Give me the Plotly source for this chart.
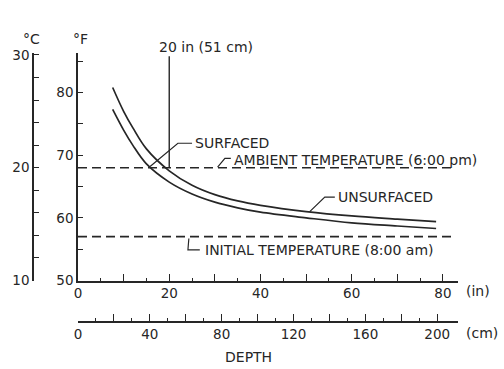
import plotly.graph_objects as go

# ---- data ----
depth_in = [7.6, 10, 12, 15, 20, 25, 30, 35, 40, 50, 60, 70, 78.5]
unsurfaced_F = [80.8, 77.0, 74.4, 71.0, 67.5, 65.2, 63.7, 62.7, 62.0, 61.0, 60.3, 59.8, 59.4]
surfaced_F = [77.3, 74.0, 71.6, 68.6, 65.7, 63.8, 62.5, 61.6, 60.9, 60.0, 59.2, 58.7, 58.3]
ambient_F = 68
initial_F = 57
marker_depth_in = 20
line_end_in = 82

in_ticks = [0, 10, 20, 30, 40, 50, 60, 70, 80]
in_labels = ["0", "", "20", "", "40", "", "60", "", "80"]
cm_ticks = [0, 20, 40, 60, 80, 100, 120, 140, 160, 180, 200]
cm_labels = ["0", "", "40", "", "80", "", "120", "", "160", "", "200"]
f_ticks = [50, 55, 60, 65, 70, 75, 80, 85]
f_labels = ["50", "", "60", "", "70", "", "80", ""]
c_ticks = [10, 12, 14, 16, 18, 20, 22, 24, 26, 28, 30]
c_labels = ["10", "", "", "", "", "20", "", "", "", "", "30"]

INK = "#262626"
FONT = "DejaVu Sans"
X_MAX = 83.3
F_MAX = 86.3

fig = go.Figure()

# curves
fig.add_trace(go.Scatter(x=depth_in, y=unsurfaced_F, mode="lines",
                         line=dict(color=INK, width=1.7, shape="spline"), hoverinfo="skip"))
fig.add_trace(go.Scatter(x=depth_in, y=surfaced_F, mode="lines",
                         line=dict(color=INK, width=1.7, shape="spline"), hoverinfo="skip"))
# dashed temperature levels
for lvl in (ambient_F, initial_F):
    fig.add_trace(go.Scatter(x=[0, line_end_in], y=[lvl, lvl], mode="lines",
                             line=dict(color=INK, width=1.6, dash="9px,5px"), hoverinfo="skip"))
# 20 in marker line
fig.add_trace(go.Scatter(x=[marker_depth_in, marker_depth_in], y=[ambient_F, 85.8], mode="lines",
                         line=dict(color=INK, width=1.4), hoverinfo="skip"))

# leader lines for labels
leaders = [
    ([25.0, 21.9, 15.8], [71.9, 71.9, 68.2]),   # SURFACED
    ([33.5, 32.2, 30.6], [69.5, 69.5, 68.1]),   # AMBIENT
    ([56.3, 54.1, 50.8], [63.3, 63.3, 61.0]),   # UNSURFACED
    ([24.3, 24.1, 26.7], [56.7, 54.9, 54.9]),   # INITIAL
]
for lx, ly in leaders:
    fig.add_trace(go.Scatter(x=lx, y=ly, mode="lines", line=dict(color=INK, width=1.2),
                             hoverinfo="skip"))

# invisible traces so secondary axes render
fig.add_trace(go.Scatter(x=[0], y=[10], xaxis="x", yaxis="y2", mode="markers",
                         marker=dict(opacity=0), hoverinfo="skip"))
fig.add_trace(go.Scatter(x=[0], y=[50], xaxis="x2", yaxis="y", mode="markers",
                         marker=dict(opacity=0), hoverinfo="skip"))

W, H = 504, 369
ml, mr, mt, mb = 28, 46, 53, 29
pw = W - ml - mr
ph = H - mt - mb
bottom_px = mt + ph


def px_x(p):
    return (p - ml) / pw


def px_y(p):
    return (bottom_px - p) / ph


tickfont = dict(family=FONT, size=13.5, color=INK)
axis_common = dict(showgrid=False, zeroline=False, showline=True, linecolor=INK,
                   linewidth=1.5, ticks="inside", tickcolor=INK, tickwidth=1.3,
                   tickfont=tickfont, tickmode="array")

fig.update_layout(
    width=W, height=H, margin=dict(l=ml, r=mr, t=mt, b=mb),
    paper_bgcolor="white", plot_bgcolor="white", showlegend=False,
    font=dict(family=FONT, color=INK),
    xaxis=dict(domain=[px_x(78), 1], range=[0, X_MAX], anchor="y",
               tickvals=in_ticks, ticktext=in_labels, ticklen=7,
               minor=dict(tickvals=[5, 15, 25, 35, 45, 55, 65, 75], ticks="inside",
                          ticklen=3, tickcolor=INK, tickwidth=1.3),
               **axis_common),
    xaxis2=dict(overlaying="x", anchor="free", position=px_y(322),
                side="bottom", range=[0, X_MAX * 2.54],
                tickvals=cm_ticks, ticktext=cm_labels, ticklen=7,
                minor=dict(tickvals=[10, 30, 50, 70, 90, 110, 130, 150, 170, 190], ticks="inside",
                           ticklen=3, tickcolor=INK, tickwidth=1.3),
                **axis_common),
    yaxis=dict(domain=[px_y(280.5), 1], range=[50, F_MAX], anchor="x",
               tickvals=f_ticks, ticktext=f_labels, ticklen=5, **axis_common),
    yaxis2=dict(overlaying="y", anchor="free", position=px_x(33), side="left",
                range=[10, (F_MAX - 32) / 1.8],
                tickvals=c_ticks, ticktext=c_labels, ticklen=5, **axis_common),
)

lab = dict(family=FONT, size=14, color=INK)
ann = [
    dict(text="°C", xref="paper", yref="paper", x=px_x(31), y=px_y(39)),
    dict(text="°F", xref="paper", yref="paper", x=px_x(80), y=px_y(39)),
    dict(text="20 in (51 cm)", xref="paper", yref="paper", x=px_x(157), y=px_y(47), xanchor="left"),
    dict(text="SURFACED", xref="x", yref="y", x=25.3, y=71.9, xanchor="left"),
    dict(text="AMBIENT TEMPERATURE (6:00 pm)", xref="x", yref="y", x=33.7, y=69.2, xanchor="left"),
    dict(text="UNSURFACED", xref="x", yref="y", x=56.6, y=63.3, xanchor="left"),
    dict(text="INITIAL TEMPERATURE (8:00 am)", xref="x", yref="y", x=27.4, y=54.9, xanchor="left"),
    dict(text="(in)", xref="paper", yref="paper", x=px_x(478), y=px_y(291)),
    dict(text="(cm)", xref="paper", yref="paper", x=px_x(482), y=px_y(333)),
    dict(text="DEPTH", xref="paper", yref="paper", x=px_x(249), y=px_y(357)),
]
for a in ann:
    a.setdefault("xanchor", "center")
    a.update(showarrow=False, font=lab, yanchor="middle")
fig.update_layout(annotations=ann)

fig.write_html("out.html")
